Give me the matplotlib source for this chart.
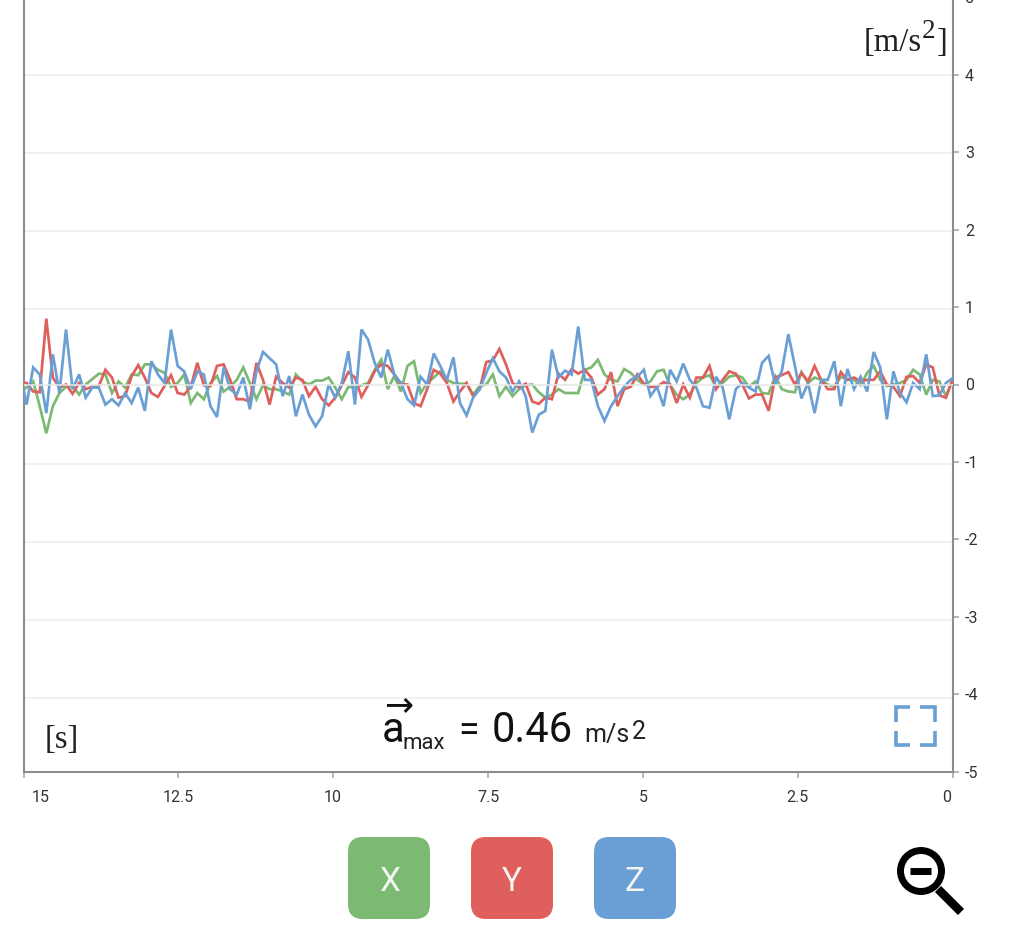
import numpy as np
import matplotlib
matplotlib.use("Agg")
import matplotlib.pyplot as plt
from matplotlib.patches import FancyBboxPatch, Circle
from matplotlib.transforms import ScaledTranslation

# Acceleration series (m/s^2), oldest sample first
x_vals = [-.06,
 -.04,.04,-.28,-.63,-.28,-.11,-.03,-.02,-.13,0,.07,.14,.13,-.11,.04,-.04,.13,.12,.26,.26,
 .19,.15,-.03,.02,.13,-.24,-.11,-.19,.02,.11,-.09,-.03,.06,.22,.02,-.19,-.01,-.06,-.06,-.09,
 -.13,.13,.04,0,.05,.05,.09,-.04,
 -.19,-.03,-.04,-.01,.02,.19,.32,-.06,.11,-.09,.24,.30,-.11,.02,.09,.17,.06,.02,.01,.01,
 -.13,-.02,0,.13,-.15,-.03,-.15,-.06,-.01,0,-.10,-.17,-.13,-.06,-.11,-.11,-.11,.19,.22,.32,
 .13,.06,.04,.20,.15,.06,0,
 .04,.17,.19,-.01,-.13,-.19,-.13,.02,.09,.12,-.03,.02,.10,.12,.09,-.03,.04,-.11,-.12,.11,
 -.06,-.09,-.10,.16,.02,.09,.06,0,-.03,.10,.06,.06,-.01,.15,.24,.06,-.02,0,.02,.06,
 .19,.13,-.13,.06,.04,-.15,.06]
y_vals = [.02,
 .02,-.09,-.10,.85,.09,-.04,0,-.12,.02,-.06,-.03,-.02,.19,.09,-.17,-.15,.11,.25,.09,-.11,
 -.16,-.02,.12,-.11,-.13,-.03,.28,-.01,-.02,.24,.26,.06,-.19,-.19,-.22,.28,.06,-.26,.10,.02,
 -.04,.09,.06,-.15,-.03,-.19,-.27,-.17,
 -.01,.16,.09,-.16,-.01,.17,.26,.24,.13,0,0,-.24,-.28,-.06,.19,.14,.02,-.22,-.09,.02,
 -.15,-.06,.29,.31,.46,.26,.02,-.04,.01,-.22,-.25,-.17,-.19,.14,.06,.20,.14,.19,.09,-.13,
 -.06,.16,-.28,-.06,-.03,.13,.01,
 -.03,-.03,.03,0,-.24,0,-.17,.09,.09,.24,-.06,.06,.17,.14,0,-.18,-.13,-.13,-.34,.09,
 .12,.16,0,.15,.04,.24,.06,-.06,-.06,.16,.06,.09,.04,.06,.06,.17,0,-.03,-.15,.10,
 .11,.02,.26,.22,-.14,-.17,.06]
z_vals = [-.06,
 -.26,.22,.13,-.37,.39,-.11,.71,-.06,.13,-.17,-.04,-.04,-.26,-.19,-.27,-.11,-.24,-.04,-.34,.30,
 .13,.02,.71,.24,.17,-.06,.17,.13,-.28,-.42,.22,-.06,-.13,.09,-.32,.17,.42,.34,.26,-.15,
 .11,-.41,-.13,-.39,-.54,-.41,0,-.17,
 .02,.43,-.26,.71,.58,.28,.09,.45,.13,.02,-.19,-.27,.10,0,.40,.24,.06,.35,-.24,-.40,
 -.17,-.06,.15,.34,.17,.09,-.09,.04,-.15,-.62,-.39,-.34,.45,.09,.18,.13,.75,.06,.06,-.28,
 -.47,-.28,-.15,-.03,.06,.10,.19,
 -.15,-.03,-.28,.19,.04,.27,.06,-.04,-.28,-.30,.10,-.04,-.45,-.06,.02,-.04,-.09,.28,.37,0,
 .17,.65,.24,-.18,.02,-.37,.06,.06,.30,-.28,.20,-.06,.10,-.09,.42,.22,-.45,.17,-.11,-.23,
 .02,-.06,.39,-.15,-.14,.02,.08]

x_ticks = [15, 12.5, 10, 7.5, 5, 2.5, 0]
x_tick_labels = ["15", "12.5", "10", "7.5", "5", "2.5", "0"]
y_ticks = [-5, -4, -3, -2, -1, 0, 1, 2, 3, 4, 5]
y_tick_labels = ["-5", "-4", "-3", "-2", "-1", "0", "1", "2", "3", "4", "5"]
button_labels = ["X", "Y", "Z"]
a_max = 0.46

W, H = 1024, 932
GREEN, RED, BLUE = "#7cb972", "#de5f5c", "#6a9fd5"
AXC, TICKC, GRID, TXT = "#8c8c8c", "#b5b5b5", "#f0f0f0", "#333333"
SANS = ["Roboto", "DejaVu Sans"]
SERIF = ["Liberation Serif", "DejaVu Serif"]

fig = plt.figure(figsize=(W / 100, H / 100), dpi=100, facecolor="white")
L, R, B, T = 23.5, 952.5, 771.5, -2.5
ax = fig.add_axes([L / W, 1 - B / H, (R - L) / W, (B - T) / H])
n = len(z_vals)
t = np.r_[15.0, np.linspace(14.95, 0.0, n - 1)]
ax.set_xlim(15, 0)
ax.set_ylim(-5, 5)
for s, c in zip([x_vals, y_vals, z_vals], [GREEN, RED, BLUE]):
    ax.plot(t, s, color=c, lw=1.95, solid_joinstyle="miter", zorder=3, clip_on=True)
ax.axhline(0, color="#e6e6e6", lw=1.3, alpha=0.85, zorder=4)
# the gridlines of the source sit slightly off its tick marks
for v in y_ticks[1:-1]:
    if v != 0:
        ax.axhline(v * 1.007 - 0.026, color=GRID, lw=1.5, zorder=1)
ax.spines["top"].set_visible(False)
for sp in ["left", "right", "bottom"]:
    ax.spines[sp].set_color(AXC)
    ax.spines[sp].set_linewidth(1.5)
ax.yaxis.tick_right()
ax.set_yticks(y_ticks, y_tick_labels, fontfamily=SANS, fontsize=11.5, color=TXT)
ax.set_xticks(x_ticks, x_tick_labels, fontfamily=SANS, fontsize=11.5, color=TXT)
ax.tick_params(axis="y", length=4.5, width=1.4, color=TICKC, pad=4.5)
ax.tick_params(axis="x", length=4.5, width=1.4, color=TICKC, pad=8.8)
labs = ax.get_xticklabels()
labs[0].set_transform(labs[0].get_transform() + ScaledTranslation(17 / 100, 0, fig.dpi_scale_trans))
labs[-1].set_transform(labs[-1].get_transform() + ScaledTranslation(-6 / 100, 0, fig.dpi_scale_trans))

# Overlay in pixel coordinates for the app's controls and captions
ov = fig.add_axes([0, 0, 1, 1], facecolor="none")
ov.set_xlim(0, W)
ov.set_ylim(H, 0)
ov.axis("off")

ov.text(864, 51, "[m/s", family=SERIF, fontsize=23.5, color="#222222", va="baseline")
ov.text(922, 38, "2", family=SERIF, fontsize=19.5, color="#222222", va="baseline")
ov.text(936.5, 51, "]", family=SERIF, fontsize=23.5, color="#222222", va="baseline")
ov.text(44.5, 748, "[s]", family=SERIF, fontsize=23.5, color="#222222", va="baseline")

ov.text(382, 742, "a", family=SANS, fontsize=30, color="#111111", va="baseline")
ov.text(384, 715, "→", family="DejaVu Sans", fontsize=25, color="#111111", va="baseline")
ov.text(403, 749, "max", family=SANS, fontsize=16, color="#222222", va="baseline")
ov.text(458, 742, "=", family=SANS, fontsize=27, color="#111111", va="baseline")
ov.text(492, 742, f"{a_max:.2f}", family=SANS, fontsize=30, color="#111111", va="baseline")
ov.text(584, 742, "m/s", family=SANS, fontsize=18, color="#222222", va="baseline")
ov.text(632, 739, "2", family=SANS, fontsize=18, color="#222222", va="baseline")

for x0, c, lab in zip([348, 471, 594], [GREEN, RED, BLUE], button_labels):
    ov.add_patch(FancyBboxPatch((x0 + 15, 837 + 15), 82 - 30, 82 - 30,
                                boxstyle="round,pad=15,rounding_size=15", fc=c, ec="none"))
    ov.text(x0 + 41, 891, lab, family=SANS, fontsize=24, color="#f2f5f2",
            ha="center", va="baseline")

# Fullscreen corners
xa, xb, ya, yb, arm = 895.5, 934.5, 707, 745, 14.5
for px, py, dx, dy in [(xa, ya, 1, 1), (xb, ya, -1, 1), (xa, yb, 1, -1), (xb, yb, -1, -1)]:
    ov.plot([px + dx * arm, px, px], [py, py, py + dy * arm], color="#6a9fd5", lw=2.6,
            solid_joinstyle="miter", solid_capstyle="butt")

# Zoom-out icon
ov.add_patch(Circle((921, 871), 20.5, fc="none", ec="black", lw=5))
ov.plot([938, 961], [889, 912], color="black", lw=6.2, solid_capstyle="butt")
ov.plot([910, 931], [870.5, 870.5], color="black", lw=5, solid_capstyle="butt")

fig.savefig("out.png", dpi=100)
